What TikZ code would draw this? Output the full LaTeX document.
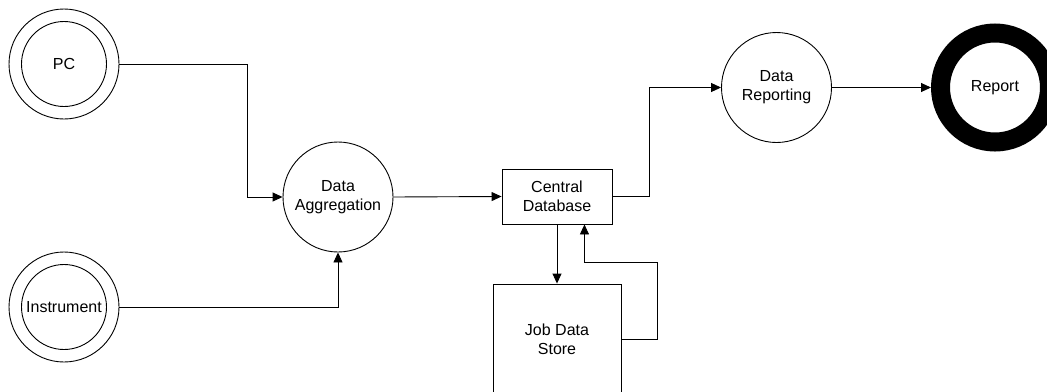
\documentclass[tikz,border=0pt]{standalone}
\usepackage{fontspec}
\setmainfont{Liberation Sans}
\usetikzlibrary{arrows.meta}
\begin{document}
\begin{tikzpicture}[x=1pt,y=-1pt,
  every node/.style={font=\fontsize{16}{19}\selectfont, align=center, inner sep=0pt},
  proc/.style={draw, circle, line width=0.9pt, minimum size=110pt},
  ext/.style={draw, circle, line width=0.9pt, minimum size=110pt},
  sink/.style={draw, circle, line width=19pt, minimum size=109pt},
  store/.style={draw, rectangle, line width=0.9pt},
  arr/.style={line width=0.9pt, -{Triangle[length=10pt,width=9pt]}}]
\useasboundingbox (0,0) rectangle (1047,391);
% nodes
\node[ext] (pc) at (64,64) {PC};
\draw[line width=0.9pt] (pc.center) circle (42.5pt);
\node[ext] (inst) at (64,307) {Instrument};
\draw[line width=0.9pt] (inst.center) circle (42.5pt);
\node[proc] (da) at (338,197) {Data\\Aggregation};
\node[store, minimum width=110pt, minimum height=55pt] (cd) at (557,196.5) {Central\\Database};
\node[store, minimum width=128pt, minimum height=110pt] (jds) at (557,339) {Job Data\\Store};
\node[proc] (dr) at (776.5,87.5) {Data\\Reporting};
\node[sink] (rep) at (995,87.5) {Report};
\coordinate (fb) at ([xshift=-28pt]cd.south east);
% connectors
\draw[arr] (pc.east) -- ++(128,0) |- (da.west);
\draw[arr] (inst.east) -| (da.south);
\draw[arr] (da.east) -- (cd.west);
\draw[arr] (cd.east) -- ++(37,0) |- (dr.west);
\draw[arr] (dr.east) -- (rep.west);
\draw[arr] (cd.south) -- (jds.north);
\draw[arr] (jds.east) -- ++(36,0) |- ([yshift=-38pt]fb) -- (fb);
\end{tikzpicture}
\end{document}
